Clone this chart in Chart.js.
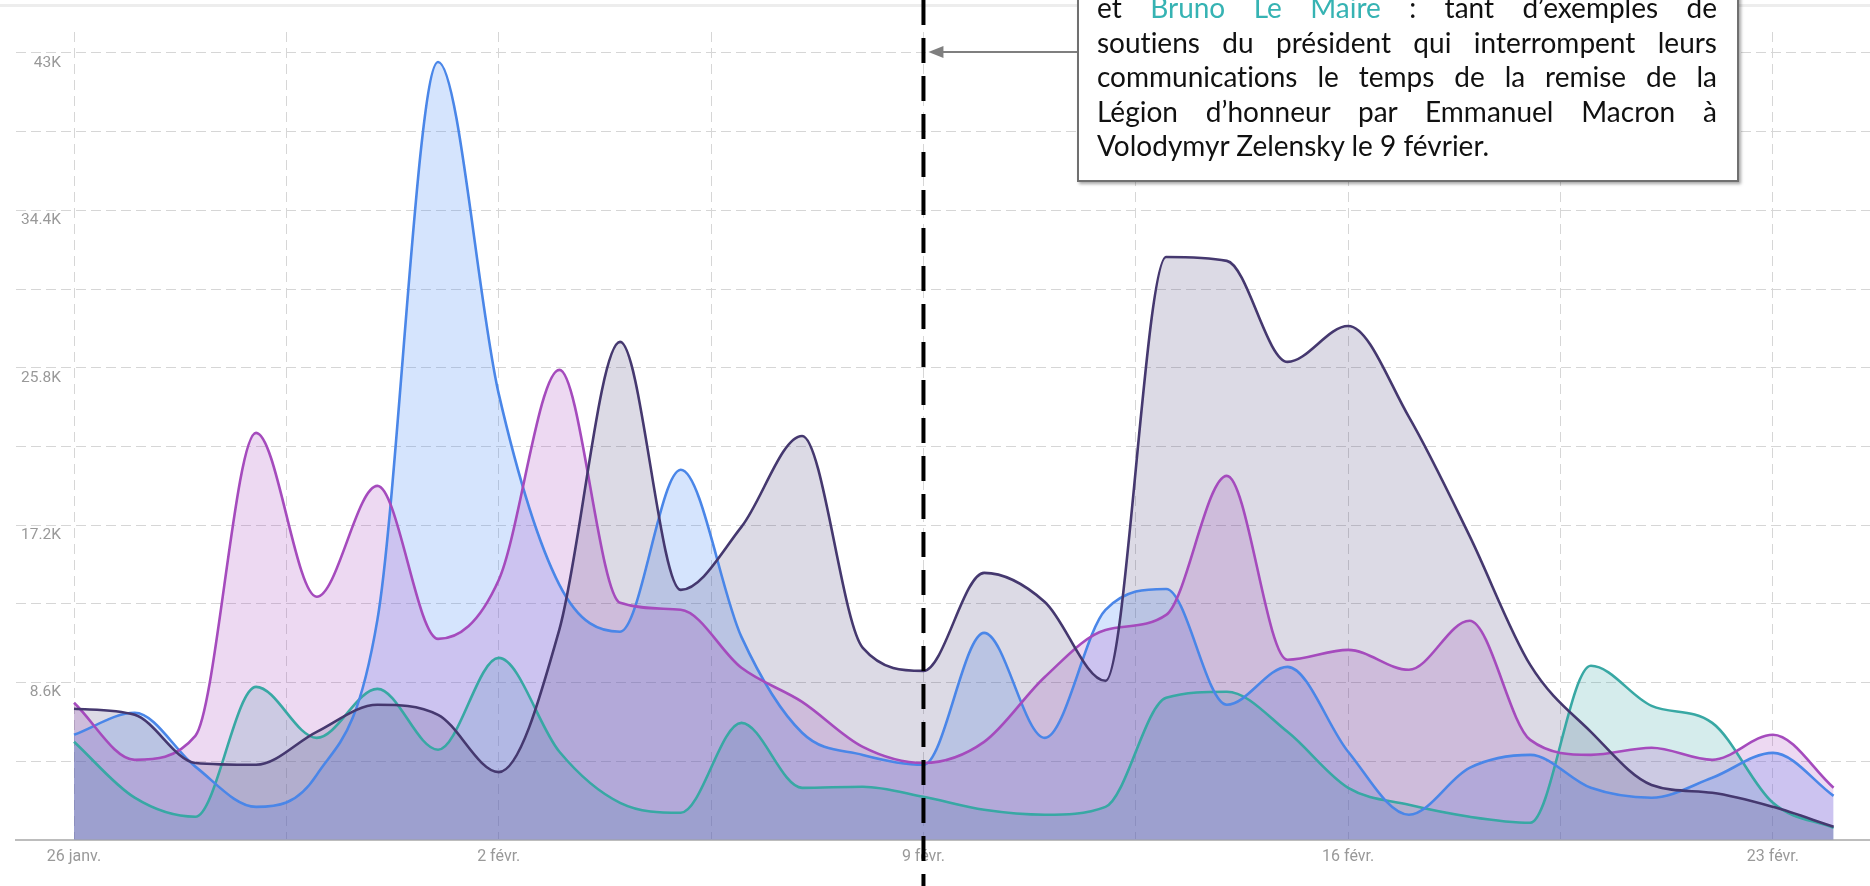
<!DOCTYPE html>
<html lang="fr">
<head>
<meta charset="utf-8">
<title>Interactions</title>
<script src="https://cdn.jsdelivr.net/npm/chart.js@4.4.1/dist/chart.umd.min.js"></script>
<style>
  html, body { margin: 0; padding: 0; background: #fff; overflow: hidden; }
  #wrap { position: relative; width: 1870px; height: 886px; }
  #topline { position: absolute; left: 0; top: 4px; width: 1870px; height: 3px; background: #ededed; }
  #chartBox { position: absolute; left: 0; top: 0; width: 1870px; height: 886px; }
  #note {
    position: absolute; left: 1077px; top: -22px; width: 620px;
    padding: 10px 20px 17px 18px;
    background: #fff; border: 2px solid #707070;
    box-shadow: 2px 2px 3px rgba(0,0,0,0.35);
    font-family: Lato, "Open Sans", sans-serif; font-size: 28px; line-height: 34.5px; color: #111;
    font-variant-ligatures: none;
    z-index: 2;
  }
  #note .j { text-align: justify; text-align-last: justify; white-space: nowrap; }
  #note .hl { color: #36b3b3; }
</style>
</head>
<body>
<div id="wrap">
  <div id="topline"></div>
  <div id="chartBox"><canvas id="chart"></canvas></div>
  <div id="note">
    <div class="j">et <span class="hl">Bruno Le Maire</span> : tant d’exemples de</div>
    <div class="j">soutiens du président qui interrompent leurs</div>
    <div class="j">communications le temps de la remise de la</div>
    <div class="j">Légion d’honneur par Emmanuel Macron à</div>
    <div>Volodymyr Zelensky le 9 février.</div>
  </div>
</div>
<script>
// one value per day, 26 janv. -> 24 févr.
const days = ['26/01', '27/01', '28/01', '29/01', '30/01', '31/01', '01/02', '02/02', '03/02', '04/02',
  '05/02', '06/02', '07/02', '08/02', '09/02', '10/02', '11/02', '12/02', '13/02', '14/02',
  '15/02', '16/02', '17/02', '18/02', '19/02', '20/02', '21/02', '22/02', '23/02', '24/02'];

const purpleValues = [7160, 6830, 4200, 4100, 5900, 7380, 6830, 3700, 11500, 27210,
  13660, 17100, 22070, 10490, 9230, 14590, 13000, 8690, 31850, 31640,
  26120, 28080, 23110, 16610, 9560, 5900, 3000, 2570, 1800, 710];
const magentaValues = [7490, 4370, 5680, 22240, 13280, 19340, 10980, 14200, 25680, 12950,
  12570, 9400, 7540, 5080, 4200, 5350, 8900, 11470, 12290, 19890,
  9840, 10380, 9290, 11970, 5460, 4640, 5030, 4370, 5740, 2840];
const blueValues = [5740, 6940, 4000, 1800, 3550, 12020, 42510, 24370, 13930, 11370,
  20220, 11090, 5850, 4640, 4100, 11310, 5570, 12570, 13710, 7380,
  9450, 4810, 1370, 3930, 4640, 2840, 2300, 3390, 4750, 2400];
const tealValues = [5360, 2300, 1260, 8360, 5570, 8250, 4920, 9940, 4810, 2020,
  1480, 6390, 2840, 2900, 2350, 1640, 1370, 1800, 7760, 8090,
  5900, 2840, 1910, 1260, 930, 9510, 7320, 6390, 2020, 650];

// x ticks every 3.5 days, labelled once a week
const xTicks = [0, 3.5, 7, 10.5, 14, 17.5, 21, 24.5, 28];
const xTickLabels = ['26 janv.', '', '2 févr.', '', '9 févr.', '', '16 févr.', '', '23 févr.'];
const yTicks = [0, 4300, 8600, 12900, 17200, 21500, 25800, 30100, 34400, 38700, 43000];
const yTickLabels = ['', '', '8.6K', '', '17.2K', '', '25.8K', '', '34.4K', '', '43K'];

const eventDay = 14; // 9 févr.
const noteLeft = 1077;
const noteArrowY = 52;

function toPoints(values) {
  return values.map((v, i) => ({ x: i, y: v }));
}

function serie(values, line, fill) {
  return {
    data: toPoints(values),
    borderColor: line,
    backgroundColor: fill,
    borderWidth: 2.6,
    fill: 'origin',
    pointRadius: 0,
    cubicInterpolationMode: 'monotone'
  };
}

const markerPlugin = {
  id: 'marker',
  afterDraw(chart) {
    const ctx = chart.ctx;
    const x = chart.scales.x.getPixelForValue(eventDay);
    ctx.save();
    ctx.strokeStyle = '#000';
    ctx.lineWidth = 4;
    ctx.setLineDash([25, 13]);
    ctx.beginPath();
    ctx.moveTo(x, 0);
    ctx.lineTo(x, chart.height);
    ctx.stroke();

    // arrow from the note to the line
    ctx.setLineDash([]);
    ctx.strokeStyle = '#7f7f7f';
    ctx.fillStyle = '#7f7f7f';
    ctx.lineWidth = 2;
    ctx.beginPath();
    ctx.moveTo(noteLeft, noteArrowY);
    ctx.lineTo(x + 18, noteArrowY);
    ctx.stroke();
    ctx.beginPath();
    ctx.moveTo(x + 5, noteArrowY);
    ctx.lineTo(x + 20, noteArrowY - 6);
    ctx.lineTo(x + 20, noteArrowY + 6);
    ctx.closePath();
    ctx.fill();
    ctx.restore();
  }
};

const gridColor = '#d6d6d6';

new Chart(document.getElementById('chart'), {
  type: 'line',
  data: {
    datasets: [
      serie(purpleValues, '#45386f', 'rgba(71,58,115,0.19)'),
      serie(magentaValues, '#a54bbd', 'rgba(170,75,195,0.21)'),
      serie(blueValues, '#4a86e8', 'rgba(66,133,244,0.22)'),
      serie(tealValues, '#38a8a4', 'rgba(56,166,166,0.21)')
    ]
  },
  options: {
    responsive: true,
    maintainAspectRatio: false,
    animation: false,
    events: [],
    layout: { padding: { left: 6, right: 0, top: 32, bottom: 11 } },
    plugins: {
      legend: { display: false },
      tooltip: { enabled: false },
      filler: { drawTime: 'beforeDatasetsDraw' }
    },
    scales: {
      x: {
        type: 'linear',
        min: -0.956,
        max: 29.6,
        bounds: 'data',
        afterBuildTicks: (axis) => { axis.ticks = xTicks.map(v => ({ value: v })); },
        grid: { color: gridColor, drawTicks: false },
        // border.dash is the dash of the grid lines, the axis line itself stays solid
        border: { display: true, color: '#bdbdbd', width: 2, dash: [10, 6] },
        ticks: {
          autoSkip: false,
          maxRotation: 0,
          padding: 8,
          color: '#999',
          font: { family: 'Roboto', size: 16 },
          callback: (v, i) => xTickLabels[i]
        }
      },
      y: {
        min: 0,
        max: 44147,
        bounds: 'data',
        afterBuildTicks: (axis) => { axis.ticks = yTicks.map(v => ({ value: v })); },
        grid: { color: gridColor, drawTicks: false },
        border: { display: false, dash: [10, 5] },
        ticks: {
          mirror: true,
          crossAlign: 'far',
          padding: 5,
          labelOffset: 10,
          color: '#999',
          font: { family: 'Roboto', size: 15.5 },
          callback: (v, i) => yTickLabels[i]
        }
      }
    }
  },
  plugins: [markerPlugin]
});
</script>
</body>
</html>
